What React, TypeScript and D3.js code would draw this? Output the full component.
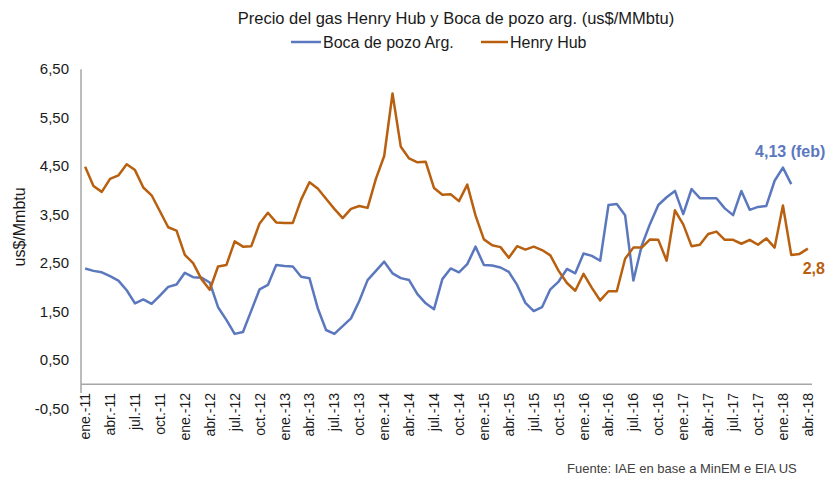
import React from "react";
import * as d3 from "d3";

const monthAbbr = ["ene.", "feb.", "mar.", "abr.", "may.", "jun.", "jul.", "ago.", "sep.", "oct.", "nov.", "dic."];
const years = ["11", "12", "13", "14", "15", "16", "17", "18"];
const monthCount = 88; // ene.-11 .. abr.-18

const henryHub = [
  4.49, 4.09, 3.97, 4.24, 4.31, 4.54, 4.42, 4.06, 3.90, 3.57, 3.24, 3.17,
  2.67, 2.50, 2.17, 1.95, 2.43, 2.46, 2.95, 2.84, 2.85, 3.32, 3.54, 3.34,
  3.33, 3.33, 3.81, 4.17, 4.04, 3.83, 3.62, 3.43, 3.62, 3.68, 3.64, 4.24,
  4.71, 6.00, 4.90, 4.66, 4.58, 4.59, 4.05, 3.91, 3.92, 3.78, 4.12, 3.48,
  2.99, 2.87, 2.83, 2.61, 2.85, 2.78, 2.84, 2.77, 2.66, 2.34, 2.09, 1.93,
  2.28, 1.99, 1.73, 1.92, 1.92, 2.59, 2.82, 2.82, 2.99, 2.98, 2.55, 3.59,
  3.30, 2.85, 2.88, 3.10, 3.15, 2.98, 2.98, 2.90, 2.98, 2.88, 3.01, 2.82,
  3.69, 2.67, 2.69, 2.80,
];

const bocaDePozo = [
  2.39, 2.34, 2.31, 2.23, 2.14, 1.94, 1.67, 1.75, 1.66, 1.83, 2.01, 2.06,
  2.30, 2.21, 2.20, 2.10, 1.59, 1.33, 1.04, 1.08, 1.52, 1.96, 2.05, 2.46,
  2.44, 2.43, 2.22, 2.19, 1.57, 1.12, 1.04, 1.20, 1.36, 1.72, 2.15, 2.34,
  2.53, 2.29, 2.19, 2.15, 1.86, 1.67, 1.55, 2.17, 2.39, 2.31, 2.48, 2.84,
  2.46, 2.45, 2.41, 2.32, 2.05, 1.68, 1.51, 1.59, 1.96, 2.12, 2.38, 2.29,
  2.70, 2.65, 2.55, 3.70, 3.72, 3.49, 2.14, 2.86, 3.31, 3.70, 3.86, 3.99,
  3.51, 4.03, 3.84, 3.84, 3.84, 3.63, 3.49, 3.99, 3.60, 3.66, 3.68, 4.20,
  4.47, 4.13,
];

const yTicks = [-0.5, 0.5, 1.5, 2.5, 3.5, 4.5, 5.5, 6.5];

const seriesNames = ["Boca de pozo Arg.", "Henry Hub"];
const title = "Precio del gas Henry Hub y Boca de pozo arg. (us$/MMbtu)";
const yTitle = "us$/Mmbtu";
const source = "Fuente: IAE en base a MinEM e EIA US";
const bocaLabel = "4,13 (feb)";
const hhLabel = "2,8";

const categories: string[] = d3.range(monthCount).map(
  (i) => `${monthAbbr[i % 12]}-${years[Math.floor(i / 12)]}`
);
const tickLabels = categories.filter((_, i) => i % 3 === 0);

const BLUE = "#5b78be";
const ORANGE = "#b8600f";
const FONT = "'Liberation Sans', Arial, sans-serif";

export default function App() {
  const width = 838;
  const height = 478;
  const left = 81;
  const right = 812;

  const x = d3.scalePoint<string>().domain(categories).range([left, right]).padding(0.5);
  const y = d3.scaleLinear().domain([-0.5, 6.5]).range([408.5, 69.3]);

  const line = d3
    .line<number>()
    .x((_, i) => x(categories[i]) as number)
    .y((d) => y(d));

  const fmt = (v: number) => v.toFixed(2).replace(".", ",");

  const lastBocaIdx = bocaDePozo.length - 1;
  const lastHHIdx = henryHub.length - 1;

  return (
    <svg width={width} height={height} style={{ position: "absolute", left: 0, top: 0, background: "#fff" }} fontFamily={FONT}>
      <rect x={0} y={0} width={width} height={height} fill="#fff" />
      {/* title */}
      <text x={456} y={24} textAnchor="middle" fontSize={16.5} fill="#1a1a1a">
        {title}
      </text>
      {/* legend */}
      <g fontSize={16} fill="#1a1a1a">
        <line x1={291} x2={321} y1={42} y2={42} stroke={BLUE} strokeWidth={2.5} />
        <text x={323} y={48}>{seriesNames[0]}</text>
        <line x1={481} x2={508} y1={42} y2={42} stroke={ORANGE} strokeWidth={2.5} />
        <text x={510} y={48}>{seriesNames[1]}</text>
      </g>
      {/* y axis */}
      <line x1={left} x2={left} y1={y(6.5)} y2={393} stroke="#a6a6a6" strokeWidth={1.5} />
      <line x1={left} x2={right} y1={y(0)} y2={y(0)} stroke="#a6a6a6" strokeWidth={1.5} />
      <g fontSize={15} fill="#1a1a1a" textAnchor="end">
        {yTicks.map((t) => (
          <text key={t} x={69} y={y(t) + 5}>
            {fmt(t)}
          </text>
        ))}
      </g>
      <text
        transform={`translate(25,${(y(6.5) + y(-0.5)) / 2 - 12}) rotate(-90)`}
        textAnchor="middle"
        fontSize={16}
        fill="#1a1a1a"
      >
        {yTitle}
      </text>
      {/* x tick labels */}
      <g fontSize={14} fill="#1a1a1a">
        {tickLabels.map((c) => (
          <text
            key={c}
            transform={`translate(${(x(c) as number) + 5},393) rotate(-90)`}
            textAnchor="end"
          >
            {c}
          </text>
        ))}
      </g>
      {/* lines */}
      <path d={line(bocaDePozo) || ""} fill="none" stroke={BLUE} strokeWidth={2.5} strokeLinejoin="round" />
      <path d={line(henryHub) || ""} fill="none" stroke={ORANGE} strokeWidth={2.5} strokeLinejoin="round" />
      {/* data labels */}
      <text
        x={(x(categories[lastBocaIdx]) as number) - 1}
        y={y(bocaDePozo[lastBocaIdx]) - 27}
        textAnchor="middle"
        fontSize={16}
        fontWeight="bold"
        fill={BLUE}
      >
        {bocaLabel}
      </text>
      <text
        x={(x(categories[lastHHIdx]) as number) + 6}
        y={y(henryHub[lastHHIdx]) + 25}
        textAnchor="middle"
        fontSize={16}
        fontWeight="bold"
        fill={ORANGE}
      >
        {hhLabel}
      </text>
      {/* source */}
      <text x={567} y={473} fontSize={13} fill="#404040">
        {source}
      </text>
    </svg>
  );
}
